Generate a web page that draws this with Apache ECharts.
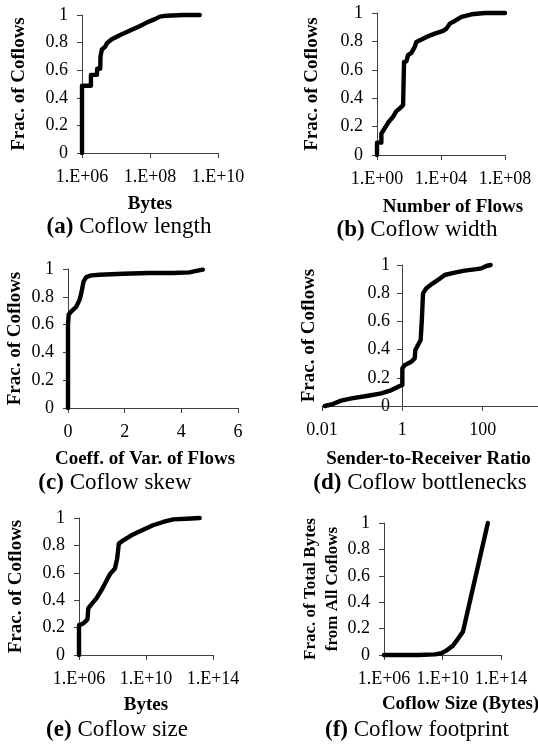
<!DOCTYPE html>
<html>
<head>
<meta charset="utf-8">
<script src="https://cdn.jsdelivr.net/npm/echarts@6/dist/echarts.min.js"></script>
<style>
html,body{margin:0;padding:0;background:#fff;}
#c{width:538px;height:748px;}
</style>
</head>
<body>
<div id="c"></div>
<script>
// (a) Coflow length
const lengthX = [1e6, 1e6, 1.83e6, 1.83e6, 2.75e6, 2.8e6, 3.44e6, 3.5e6, 3.85e6, 4.8e6, 5.4e6, 7.5e6, 1.33e7, 2.6e7, 5.1e7, 8e7, 1.4e8, 1.96e8, 3.1e8, 9.5e8, 2.9e9];
const lengthY = [0, 0.487, 0.487, 0.566, 0.566, 0.61, 0.61, 0.70, 0.75, 0.77, 0.795, 0.824, 0.855, 0.887, 0.92, 0.945, 0.97, 0.988, 0.995, 1, 1];
// (b) Coflow width
const widthX = [1, 1, 1.87, 1.87, 3.0, 4.9, 10, 16.2, 26.3, 42.7, 49, 49, 69, 87, 141, 229, 288, 603, 1550, 4070, 13500, 21900, 35500, 72400, 190000, 813000, 5.5e6, 1e8];
const widthY = [0, 0.087, 0.087, 0.152, 0.187, 0.227, 0.269, 0.309, 0.328, 0.351, 0.36, 0.656, 0.66, 0.703, 0.719, 0.761, 0.796, 0.813, 0.836, 0.855, 0.874, 0.89, 0.925, 0.944, 0.972, 0.991, 1, 1];
// (c) Coflow skew
const skewX = [0, 0, 0.024, 0.118, 0.29, 0.41, 0.47, 0.55, 0.65, 0.82, 1.12, 1.94, 2.88, 3.71, 4.29, 4.53, 4.76];
const skewY = [0, 0.6, 0.671, 0.695, 0.727, 0.78, 0.827, 0.911, 0.942, 0.954, 0.959, 0.966, 0.971, 0.971, 0.976, 0.986, 0.995];
// (d) Coflow bottlenecks
const ratioX = [0.0117, 0.0186, 0.030, 0.054, 0.14, 0.30, 0.54, 0.86, 1, 1, 1.15, 1.67, 2.03, 2.11, 2.45, 2.86, 3.09, 3.27, 3.96, 5.75, 7.73, 11.3, 20, 35.5, 63, 92.7, 123, 158];
const ratioY = [0, 0.014, 0.038, 0.054, 0.073, 0.09, 0.113, 0.142, 0.149, 0.267, 0.29, 0.314, 0.338, 0.397, 0.433, 0.468, 0.634, 0.799, 0.835, 0.87, 0.894, 0.929, 0.946, 0.96, 0.969, 0.976, 0.993, 1];
// (e) Coflow size
const sizeX = [1e6, 1e6, 1.8e6, 3.2e6, 3.6e6, 5.6e6, 1.1e7, 2.2e7, 4.5e7, 7.1e7, 1.4e8, 1.9e8, 2.4e8, 4.4e8, 1.35e9, 6.8e9, 2.6e10, 1.05e11, 4.2e11, 2.5e12, 1.6e13];
const sizeY = [0, 0.218, 0.23, 0.26, 0.34, 0.371, 0.413, 0.473, 0.546, 0.59, 0.631, 0.704, 0.813, 0.837, 0.874, 0.915, 0.947, 0.971, 0.99, 0.995, 1];
// (f) Coflow footprint
const footX = [1e6, 2.2e8, 3e9, 8.3e9, 1.8e10, 5.2e10, 1e11, 2.5e11, 1.26e13];
const footY = [0, 0, 0.005, 0.013, 0.033, 0.071, 0.114, 0.177, 1];

// tick values
const ticksA = [1e6, 1e8, 1e10];
const ticksB = [1, 1e4, 1e8];
const ticksD = [0.01, 1, 100, 10000];
const ticksEF = [1e6, 1e10, 1e14];

const xTitles = ['Bytes', 'Number of Flows', 'Coeff. of Var. of Flows', 'Sender-to-Receiver Ratio', 'Bytes', 'Coflow Size (Bytes)'];
const yTitles = ['Frac. of Coflows', 'Frac. of Coflows', 'Frac. of Coflows', 'Frac. of Coflows', 'Frac. of Coflows', 'Frac. of Total Bytes\nfrom All Coflows'];
const captionTags = ['(a)', '(b)', '(c)', '(d)', '(e)', '(f)'];
const captionTexts = ['Coflow length', 'Coflow width', 'Coflow skew', 'Coflow bottlenecks', 'Coflow size', 'Coflow footprint'];

const FONT = '"Liberation Serif", "Times New Roman", serif';
const AXIS_COLOR = '#404040';

function expLabel(v) {
  const e = Math.round(Math.log10(v));
  return '1.E' + (e < 0 ? '-' : '+') + String(Math.abs(e)).padStart(2, '0');
}
function zip(xs, ys) { return xs.map((x, i) => [x, ys[i]]); }

const grids = [
  {left: 82, top: 15, width: 136, height: 138},
  {left: 377, top: 13, width: 128, height: 142},
  {left: 68, top: 269, width: 170, height: 139},
  {left: 322, top: 265, right: -25, height: 141},
  {left: 79, top: 518, width: 134, height: 137},
  {left: 384, top: 523, width: 117, height: 132}
].map(g => Object.assign({outerBoundsMode: 'none', containLabel: false}, g));

const tickStyle = {fontFamily: FONT, fontSize: 18, color: '#000'};
const nameStyle = {fontFamily: FONT, fontSize: 19, fontWeight: 'bold', color: '#000'};

function logX(idx, min, max, ticks, fmt, nameGap, pad) {
  return {
    gridIndex: idx, type: 'log', logBase: 10, min: min, max: max,
    axisLine: {show: true, lineStyle: {color: AXIS_COLOR, width: 1}},
    axisTick: {show: true, length: 5, lineStyle: {color: AXIS_COLOR}, customValues: ticks},
    axisLabel: Object.assign({margin: 15, customValues: ticks, formatter: fmt, showMinLabel: true, showMaxLabel: true, hideOverlap: false}, tickStyle),
    splitLine: {show: false}, minorTick: {show: false},
    name: xTitles[idx], nameLocation: 'middle', nameGap: nameGap,
    nameTextStyle: Object.assign({padding: pad}, nameStyle)
  };
}

const xAxes = [
  logX(0, 1e6, 1e10, ticksA, expLabel, 42, [0, 0, 0, 0]),
  logX(1, 1, 1e8, ticksB, expLabel, 43, [0, 0, 0, 24]),
  {
    gridIndex: 2, type: 'value', min: 0, max: 6, interval: 2,
    axisLine: {show: true, onZero: false, lineStyle: {color: AXIS_COLOR, width: 1}},
    axisTick: {show: true, length: 5, lineStyle: {color: AXIS_COLOR}},
    axisLabel: Object.assign({margin: 15}, tickStyle),
    splitLine: {show: false},
    name: xTitles[2], nameLocation: 'middle', nameGap: 42,
    nameTextStyle: Object.assign({padding: [0, 16, 0, 0]}, nameStyle)
  },
  logX(3, 0.01, 10000, ticksD, v => String(v), 44, [0, 28, 0, 0]),
  logX(4, 1e6, 1e14, ticksEF, expLabel, 41, [0, 0, 0, 0]),
  logX(5, 1e6, 1e14, ticksEF, expLabel, 40, [0, 0, 0, 36])
];

function yAx(idx, nameGap, offset, nameSize, margin) {
  return {
    gridIndex: idx, type: 'value', min: 0, max: 1, interval: 0.2, offset: offset || 0,
    axisLine: {show: true, onZero: false, lineStyle: {color: AXIS_COLOR, width: 1}},
    axisTick: {show: true, length: 5, lineStyle: {color: AXIS_COLOR}},
    axisLabel: Object.assign({margin: margin || 14}, tickStyle),
    splitLine: {show: false},
    name: yTitles[idx], nameLocation: 'middle', nameGap: nameGap, nameRotate: 90,
    nameTextStyle: Object.assign({}, nameStyle, {fontSize: nameSize || 19, lineHeight: 22})
  };
}

const yAxes = [
  yAx(0, 52), yAx(1, 54), yAx(2, 42), yAx(3, 82, -80, 19, 12), yAx(4, 52), yAx(5, 40, 0, 17)
];

const datasets = [[lengthX, lengthY], [widthX, widthY], [skewX, skewY], [ratioX, ratioY], [sizeX, sizeY], [footX, footY]];
const series = datasets.map((d, i) => ({
  type: 'line', xAxisIndex: i, yAxisIndex: i, data: zip(d[0], d[1]),
  showSymbol: false, symbol: 'none', smooth: false, clip: false,
  lineStyle: {color: '#000', width: 4.4, join: 'round', cap: 'round'},
  animation: false, silent: true
}));

const capPos = [[129, 227], [417, 230], [115, 483], [420, 483], [117, 730], [417, 730]];
const graphics = capPos.map((p, i) => ({
  type: 'text', x: p[0], y: p[1],
  style: {
    text: '{b|' + captionTags[i] + '} ' + captionTexts[i],
    align: 'center', verticalAlign: 'middle',
    fontFamily: FONT, fontSize: 23, fill: '#000',
    rich: {b: {fontFamily: FONT, fontSize: 23, fontWeight: 'bold', fill: '#000'}}
  }
}));

const chart = echarts.init(document.getElementById('c'), null, {renderer: 'canvas'});
chart.setOption({
  animation: false,
  backgroundColor: '#fff',
  grid: grids,
  xAxis: xAxes,
  yAxis: yAxes,
  series: series,
  graphic: graphics
});
</script>
</body>
</html>
